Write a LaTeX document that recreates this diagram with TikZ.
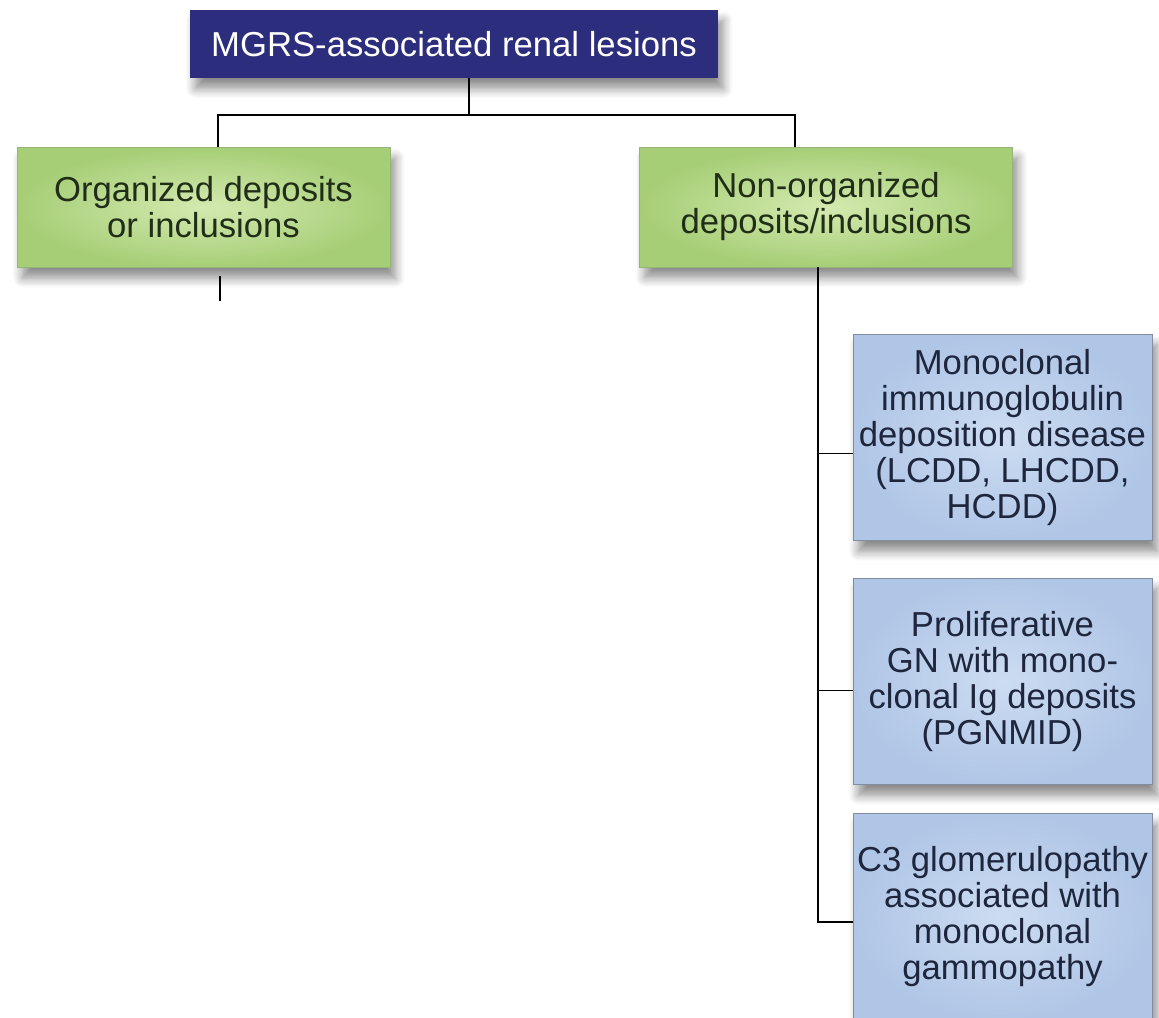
\documentclass[tikz,border=0pt]{standalone}
\usepackage{fontspec}
\usepackage{tikz}
\usetikzlibrary{calc,shadows.blur}
\newfontfamily\arialfont{Liberation Sans}

\definecolor{navyfill}{RGB}{44,45,124}
\definecolor{greenedge}{RGB}{166,206,118}
\definecolor{greenmid}{RGB}{212,234,176}
\definecolor{greenline}{RGB}{150,180,120}
\definecolor{greentext}{RGB}{32,46,24}
\definecolor{blueedge}{RGB}{176,198,230}
\definecolor{bluemid}{RGB}{204,220,242}
\definecolor{blueline}{RGB}{130,140,160}
\definecolor{bluetext}{RGB}{30,38,62}

\tikzset{
  boxfont/.style={font=\arialfont\fontsize{26}{27}\selectfont, align=center, inner sep=0pt},
  softshadow/.style={blur shadow={shadow xshift=4pt, shadow yshift=-8pt, shadow blur radius=7pt,
    shadow blur steps=8, shadow opacity=45}},
  topbox/.style={boxfont, fill=navyfill, text=white, minimum width=396pt, minimum height=51pt, softshadow},
  grpbox/.style={boxfont, draw=greenline, line width=0.6pt, inner color=greenmid, outer color=greenedge,
    text=greentext, minimum width=279.75pt, minimum height=90pt, softshadow},
  subbox/.style={boxfont, draw=blueline, line width=0.6pt, inner color=bluemid, outer color=blueedge,
    text=bluetext, minimum width=224.25pt, minimum height=155pt, softshadow},
  link/.style={line width=1.4pt, black}
}

\begin{document}
\begin{tikzpicture}[x=0.75pt,y=0.75pt,yscale=-1,xscale=1]
\clip (0,0) rectangle (1159,1017);
\useasboundingbox (0,0) rectangle (1159,1017);

% Text Node
\node[topbox] (mgrs) at (454,44) {MGRS-associated renal lesions};
% Text Node
\node[grpbox] (org) at (203.5,207.5) {Organized deposits\\or inclusions};
% Text Node
\node[grpbox] (norg) at (826,207) {Non-organized\\deposits/inclusions};
% Text Node
\node[subbox] (midd) at (1002.5,437.5) {Monoclonal\\immunoglobulin\\deposition disease\\(LCDD, LHCDD,\\HCDD)};
% Text Node
\node[subbox] (pgnmid) at (1002.5,681.5) {Proliferative\\GN with mono-\\clonal Ig deposits\\(PGNMID)};
% Text Node
\node[subbox] (c3g) at (1002.5,917) {C3 glomerulopathy\\associated with\\monoclonal\\gammopathy};

%Straight Lines
\draw[link] ($(mgrs.south)+(15,0)$) -- ++(0,37) coordinate (split);
\draw[link] ($(org.north)+(14.5,0)$) |- (split) -| ($(norg.north)+(-31,0)$);
%Straight Lines
\draw[link] ($(org.south)+(16.5,8)$) -- ++(0,25);
%Straight Lines
\coordinate (trunk) at ($(norg.south)+(-8,0)$);
\draw[link] (trunk) |- ($(midd.west)+(0,16)$);
\draw[link] (trunk) |- ($(pgnmid.west)+(0,9)$);
\draw[link] (trunk) |- ($(c3g.west)+(0,5)$);

\end{tikzpicture}
\end{document}
